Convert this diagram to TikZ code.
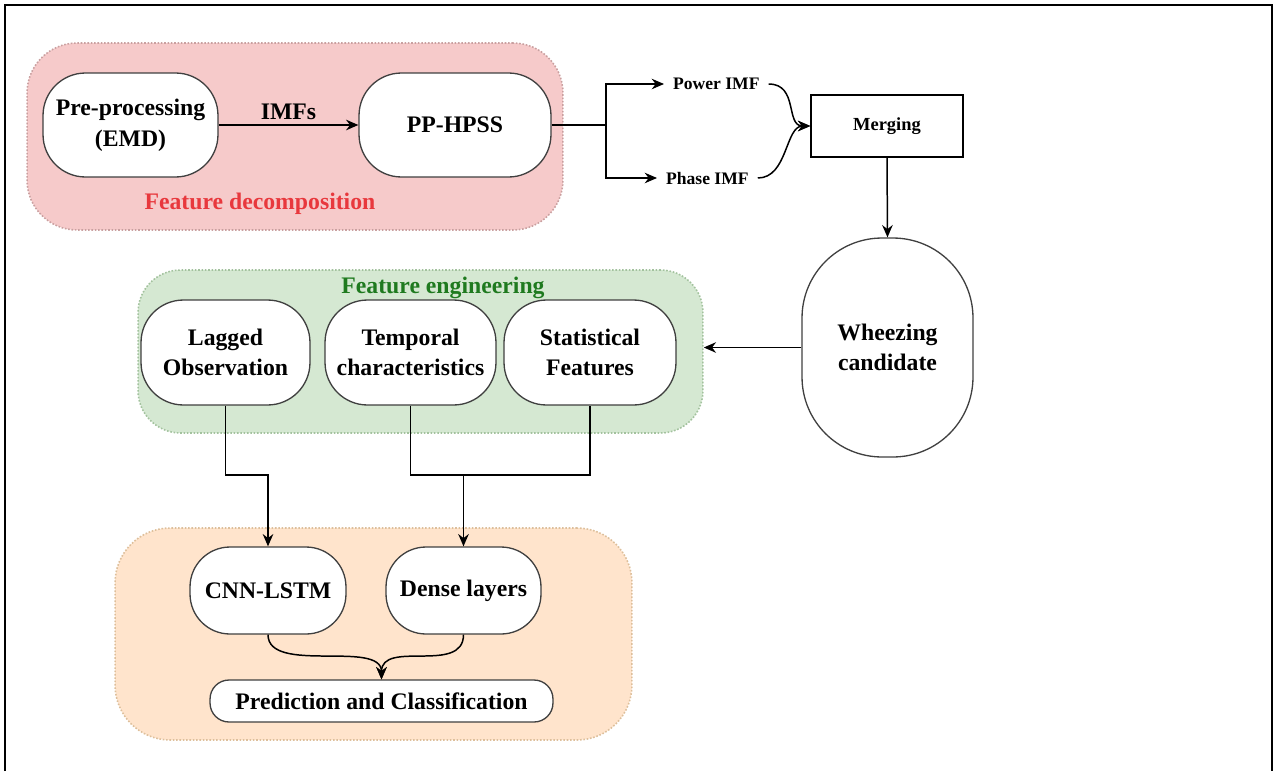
\documentclass[tikz,border=0pt]{standalone}
\usepackage{fontspec}
\setmainfont{Liberation Serif}
\usepackage{xcolor}
\usepackage{tikz}
\usetikzlibrary{arrows.meta}
\definecolor{decompFill}{HTML}{F6CACA}
\definecolor{decompLine}{HTML}{C9A0A0}
\definecolor{decompText}{HTML}{E8383D}
\definecolor{engFill}{HTML}{D5E8D2}
\definecolor{engLine}{HTML}{A3C29E}
\definecolor{engText}{HTML}{1F7A1F}
\definecolor{predFill}{HTML}{FFE4CC}
\definecolor{predLine}{HTML}{DDBF9B}

\begin{document}
\begin{tikzpicture}[
		x=0.02cm, y=-0.02cm,
		stepbox/.style={
			draw=black!75, fill=white, line width=0.75pt, rounded corners=0.85cm,
			font=\fontsize{13.5}{17.5}\selectfont\bfseries, align=center, inner sep=2pt
		},
		groupbox/.style={
			densely dotted, line width=0.9pt, inner sep=0pt
		},
		tag/.style={
			font=\fontsize{10}{12}\selectfont\bfseries, inner xsep=5pt, inner ysep=2pt
		},
		title/.style={font=\fontsize{13.5}{16}\selectfont\bfseries},
		arrow/.style={-{Stealth[length=7pt, width=6pt]}, line width=0.85pt},
		link/.style={line width=0.85pt}
		]
		
		\useasboundingbox (0,0) rectangle (1274,771);
		\draw[line width=1.2pt] (5,771) -- (5,5) -- (1272,5) -- (1272,771);
		
		% groups
		\node[groupbox, fill=decompFill, draw=decompLine, rounded corners=1cm,
		minimum width=10.72cm, minimum height=3.74cm] (fdgroup) at (295,136.5) {};
		\node[groupbox, fill=engFill, draw=engLine, rounded corners=0.85cm,
		minimum width=11.3cm, minimum height=3.26cm] (fegroup) at (420.5,351.5) {};
		\node[groupbox, fill=predFill, draw=predLine, rounded corners=1.1cm,
		minimum width=10.34cm, minimum height=4.24cm] (pcgroup) at (373.5,634) {};
		
		\node[title, text=decompText] (fdtitle) at (260,204) {Feature decomposition};
		\node[title, text=engText] (fetitle) at (443,288) {Feature engineering};
		
		% decomposition
		\node[stepbox, minimum width=3.5cm, minimum height=2.08cm] (emd) at (130.5,125)
		{Pre-processing\\(EMD)};
		\node[stepbox, minimum width=3.84cm, minimum height=2.08cm] (hpss) at (455,125)
		{PP-HPSS};
		
		\coordinate (split) at (606,125);
		\node[tag, anchor=west] (power) at (664,84) {Power IMF};
		\node[tag, anchor=west] (phase) at (657,178) {Phase IMF};
		
		\node[draw, line width=0.9pt, minimum width=3.04cm, minimum height=1.24cm,
		font=\fontsize{10.5}{12}\selectfont\bfseries] (merge) at (887,126) {Merging};
		
		\node[stepbox, rounded corners=1.6cm, minimum width=3.42cm, minimum height=4.38cm]
		(wheeze) at (887.5,347.5) {Wheezing\\candidate};
		
		% engineering
		\node[stepbox, minimum width=3.38cm, minimum height=2.1cm] (lagged) at (225.5,352.5)
		{Lagged\\Observation};
		\node[stepbox, minimum width=3.42cm, minimum height=2.1cm] (temporal) at (410.5,352.5)
		{Temporal\\characteristics};
		\node[stepbox, minimum width=3.44cm, minimum height=2.1cm] (stats) at (590,352.5)
		{Statistical\\Features};
		
		% models
		\node[stepbox, rounded corners=0.8cm, minimum width=3.12cm, minimum height=1.74cm]
		(cnn) at (268,590.5) {CNN-LSTM};
		\node[stepbox, rounded corners=0.8cm, minimum width=3.1cm, minimum height=1.74cm]
		(dense) at (463.5,590.5) {Dense layers};
		\node[stepbox, rounded corners=0.38cm, minimum width=6.86cm, minimum height=0.84cm]
		(pred) at (381.5,701) {Prediction and Classification};
		
		\coordinate (lagjoin) at (lagged.south |- 0,475);
		\coordinate (tsjoin) at (dense.north |- 0,475);
		
		\draw[arrow] (emd) -- node[above, title, yshift=-1pt] {IMFs} (hpss);
		\draw[link] (hpss.east) -- (split);
		\draw[arrow] (split) |- (power.west);
		\draw[arrow] (split) |- (phase.west);
		\draw[arrow] (power.east) .. controls +(30,0) and +(-25,0) .. (merge.west);
		\draw[arrow] (phase.east) .. controls +(30,0) and +(-25,0) .. (merge.west);
		\draw[arrow] (merge.south) -- (wheeze.north);
		\draw[arrow] (wheeze.west) -- (wheeze.west -| fegroup.east);
		
		\draw[arrow] (lagged.south) -- (lagjoin) -| (cnn.north);
		\draw[link] (temporal.south) |- (tsjoin) -| (stats.south);
		\draw[arrow] (tsjoin) -- (dense.north);
		
		\draw[arrow] (cnn.south) .. controls +(0,40) and +(0,-40) .. (pred.north);
		\draw[arrow] (dense.south) .. controls +(0,40) and +(0,-40) .. (pred.north);
		
	\end{tikzpicture}
\end{document}
